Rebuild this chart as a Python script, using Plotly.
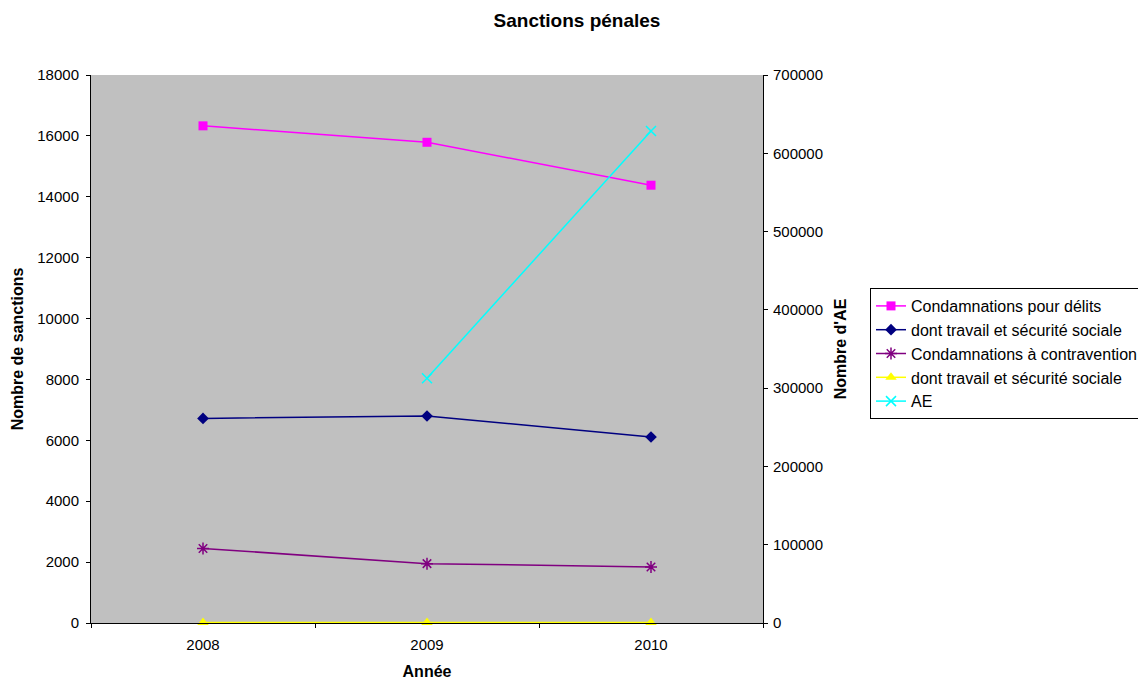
import plotly.graph_objects as go

years = ["2008", "2009", "2010"]
condamnations_delits = [16330, 15790, 14380]
delits_travail_secu = [6720, 6800, 6110]
condamnations_contravention = [2450, 1950, 1840]
contravention_travail_secu = [20, 15, 15]
ae = [None, 312600, 628500]

FONT = "Liberation Sans, Arial, sans-serif"

fig = go.Figure()

fig.add_trace(go.Scatter(
    x=years, y=condamnations_delits, name="Condamnations pour délits",
    mode="lines+markers", line=dict(color="#FF00FF", width=1.5),
    marker=dict(symbol="square", size=9, color="#FF00FF")))
fig.add_trace(go.Scatter(
    x=years, y=delits_travail_secu, name="dont travail et sécurité sociale",
    mode="lines+markers", line=dict(color="#000080", width=1.5),
    marker=dict(symbol="diamond", size=9, color="#000080")))
fig.add_trace(go.Scatter(
    x=years, y=condamnations_contravention, name="Condamnations à contravention",
    mode="lines+markers", line=dict(color="#800080", width=1.5),
    marker=dict(symbol="asterisk-open", size=10, color="#800080",
                line=dict(color="#800080", width=1.5))))
fig.add_trace(go.Scatter(
    x=years, y=contravention_travail_secu, name="dont travail et sécurité sociale",
    mode="lines+markers", line=dict(color="#FFFF00", width=1.5),
    marker=dict(symbol="triangle-up", size=10, color="#FFFF00"), cliponaxis=False))
fig.add_trace(go.Scatter(
    x=years, y=ae, name="AE", yaxis="y2",
    mode="lines+markers", line=dict(color="#00FFFF", width=1.5),
    marker=dict(symbol="x-thin-open", size=10, color="#00FFFF",
                line=dict(color="#00FFFF", width=1.5))))

W, H = 1138, 674
fig.update_layout(
    width=W, height=H,
    margin=dict(l=83, r=383, t=67, b=59, autoexpand=False),
    paper_bgcolor="white", plot_bgcolor="#C0C0C0",
    font=dict(family=FONT, size=15, color="black"),
    title=dict(text="<b>Sanctions pénales</b>", x=0.5, xanchor="center",
               y=1 - 12 / H, yanchor="middle", font=dict(size=19, family=FONT)),
    showlegend=True,
    legend=dict(x=(870 - 91) / 672, y=(623 - 288) / 548, xanchor="left", yanchor="top",
                bgcolor="white", bordercolor="black", borderwidth=1,
                font=dict(size=16, family=FONT), tracegroupgap=0),
    xaxis=dict(type="category", range=[-0.5, 2.5], tickson="boundaries", automargin=False,
               ticks="outside", ticklen=4, tickcolor="black", ticklabelstandoff=8,
               showline=True, linecolor="black", linewidth=1,
               showgrid=False, zeroline=False,
               title=dict(text="<b>Année</b>", font=dict(size=16), standoff=13)),
    yaxis=dict(range=[0, 18000], dtick=2000, tickformat="d", automargin=False,
               ticks="outside", ticklen=4, tickcolor="black", ticklabelstandoff=4,
               showline=True, linecolor="black", linewidth=1,
               showgrid=False, zeroline=False,
               title=dict(text="<b>Nombre de sanctions</b>", font=dict(size=16), standoff=9)),
    yaxis2=dict(range=[0, 700000], dtick=100000, tickformat="d", automargin=False,
                overlaying="y", side="right",
                ticks="outside", ticklen=4, tickcolor="black", ticklabelstandoff=2,
                showline=True, linecolor="black", linewidth=1,
                showgrid=False, zeroline=False,
                title=dict(text="<b>Nombre d'AE</b>", font=dict(size=16), standoff=12)),
)

fig.write_html("out.html")
